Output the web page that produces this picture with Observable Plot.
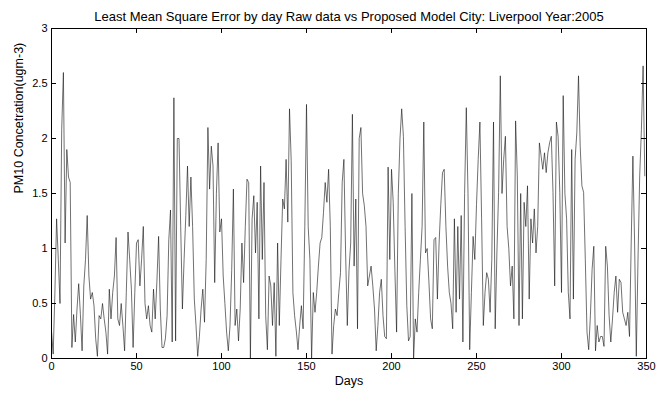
<!DOCTYPE html>
<html>
<head>
<meta charset="utf-8">
<script src="https://cdn.jsdelivr.net/npm/d3@7"></script>
<script src="https://cdn.jsdelivr.net/npm/@observablehq/plot@0.6"></script>
<style>
  html, body { margin: 0; padding: 0; background: white; }
</style>
</head>
<body>
<div id="chart"></div>
<script>
const title = "Least Mean Square Error by day Raw data vs Proposed Model City: Liverpool Year:2005";
const xLabel = "Days";
const yLabel = "PM10 Concetration(ugm-3)";
const xTicks = [0, 50, 100, 150, 200, 250, 300, 350];
const yTicks = [0, 0.5, 1, 1.5, 2, 2.5, 3];

const pm10 = [
  0.25, 0.04, 0.6, 1.27, 0.9, 0.5, 2.08, 2.6, 1.05, 1.9,
  1.65, 1.6, 0.1, 0.4, 0.15, 0.45, 0.68, 0.4, 0.07,
  0.66, 0.9, 1.3, 0.75, 0.54, 0.6, 0.48, 0.18, 0.02, 0.39,
  0.36, 0.5, 0.36, 0.24, 0.04, 0.63, 0.36, 0.6, 0.75, 1.1,
  0.36, 0.3, 0.5, 0.3, 0.07, 0.6, 1.15, 0.9, 0.63, 0.1,
  0.6, 1.05, 1.08, 0.66, 0.9, 1.2, 0.5, 0.36, 0.48, 0.3,
  0.24, 0.63, 0.36, 0.7, 1.11, 0.45, 0.1, 0.1, 0.18, 0.39,
  1.08, 1.35, 0.15, 2.37, 0.16, 2.0, 2.0, 1.2, 0.45,
  0.9, 1.3, 1.75, 1.2, 1.65, 1.2, 0.54, 0.3, 0.02, 0.2,
  0.45, 0.63, 0.33, 0.9, 2.1, 1.54, 1.93, 1.75, 0.69, 1.5,
  1.96, 1.15, 1.27, 0.75, 0.5, 0.24, 0.07, 0.3, 0.8, 1.54,
  0.3, 0.45, 0.16, 0.45, 1.05, 0.69, 1.2, 1.63, 1.6, 0.0,
  1.27, 1.48, 0.96, 1.42, 0.36, 1.75, 0.9, 1.6, 0.39, 0.08,
  0.75, 0.66, 0.3, 0.69, 0.02, 1.05, 0.3, 0.9, 1.45,
  1.36, 1.81, 1.24, 2.27, 1.8, 0.6, 0.39, 0.25, 0.08, 0.3,
  0.48, 0.27, 1.2, 2.31, 1.2, 0.9, 0.0, 0.6, 0.42, 0.6,
  0.84, 1.05, 1.1, 1.33, 1.6, 1.42, 1.72, 1.2, 0.04, 0.3,
  0.45, 0.39, 0.6, 0.78, 1.6, 1.81, 0.96, 0.3, 0.8, 1.05,
  2.22, 0.84, 1.45, 0.27, 2.0, 2.1, 1.5, 1.39, 1.2,
  0.66, 0.75, 0.84, 0.66, 0.45, 0.07, 0.3, 0.6, 0.72, 0.39,
  0.2, 0.18, 1.74, 0.9, 1.72, 1.42, 0.8, 0.24, 1.5, 2.0,
  2.27, 2.02, 1.2, 0.48, 0.16, 0.2, 1.5, 0.0, 0.36, 0.24,
  0.6, 0.9, 1.2, 2.15, 0.96, 1.0, 0.7, 0.36, 0.27, 1.08,
  1.1, 0.54, 1.05, 1.4, 1.69, 1.72, 1.2, 0.84, 0.6, 0.5,
  0.27, 1.27, 0.42, 1.2, 0.54, 1.3, 0.15, 1.5, 2.28,
  1.5, 0.08, 0.6, 1.11, 0.9, 1.4, 1.81, 2.15, 1.27, 0.3,
  0.6, 0.78, 0.72, 0.42, 0.9, 2.15, 0.27, 0.96, 1.51, 2.57,
  1.5, 1.81, 2.02, 1.2, 1.0, 0.66, 0.84, 0.36, 2.16, 1.66,
  0.3, 1.5, 0.36, 1.42, 1.2, 1.57, 0.54, 1.27, 1.05, 1.36,
  0.96, 1.2, 1.96, 1.84, 1.72, 1.87, 1.69, 1.87, 1.96, 2.02,
  1.51, 0.66, 2.15, 2.02, 1.51, 0.6, 2.39, 1.5, 1.27,
  0.6, 0.36, 1.9, 0.54, 1.81, 2.05, 2.57, 1.93, 1.57, 1.51,
  0.9, 0.24, 0.08, 0.39, 0.81, 1.02, 0.07, 0.3, 0.15, 0.2,
  0.2, 0.11, 1.02, 0.84, 0.39, 0.15, 0.36, 0.6, 0.75, 0.42,
  0.72, 0.69, 0.42, 0.36, 0.3, 0.42, 0.2, 1.05, 1.84, 1.05,
  0.02, 0.9, 1.66, 2.08, 2.66, 1.66
];

const data = pm10.map((v, i) => ({day: i, value: v}));
const fmt = d => String(d);

const chart = Plot.plot({
  width: 657,
  height: 394,
  marginLeft: 51,
  marginRight: 11,
  marginTop: 28,
  marginBottom: 36,
  style: {fontFamily: "'Liberation Sans', Arial, sans-serif", fontSize: "11px", background: "white", color: "black"},
  x: {domain: [0, 350]},
  y: {domain: [0, 3]},
  marks: [
    Plot.axisX({ticks: xTicks, tickSize: 0, tickPadding: 4, tickFormat: fmt, label: null}),
    Plot.axisY({ticks: yTicks, tickSize: 0, tickPadding: 4, tickFormat: fmt, label: null}),
    Plot.line(data, {x: "day", y: "value", stroke: "#111", strokeWidth: 0.6}),
    Plot.ruleX(xTicks, {x: d => d, y1: 0, y2: 0.045, stroke: "black"}),
    Plot.ruleX(xTicks, {x: d => d, y1: 3, y2: 2.955, stroke: "black"}),
    Plot.ruleY(yTicks, {y: d => d, x1: 0, x2: 2.95, stroke: "black"}),
    Plot.ruleY(yTicks, {y: d => d, x1: 350, x2: 347.05, stroke: "black"}),
    Plot.frame({stroke: "black"}),
    Plot.text([title], {text: d => d, frameAnchor: "top", dy: -17, fontSize: 13}),
    Plot.text([xLabel], {text: d => d, frameAnchor: "bottom", dy: 26, fontSize: 12.5}),
    Plot.text([yLabel], {text: d => d, frameAnchor: "left", dx: -33, rotate: -90, fontSize: 12.5})
  ]
});
document.getElementById("chart").appendChild(chart);
</script>
</body>
</html>
